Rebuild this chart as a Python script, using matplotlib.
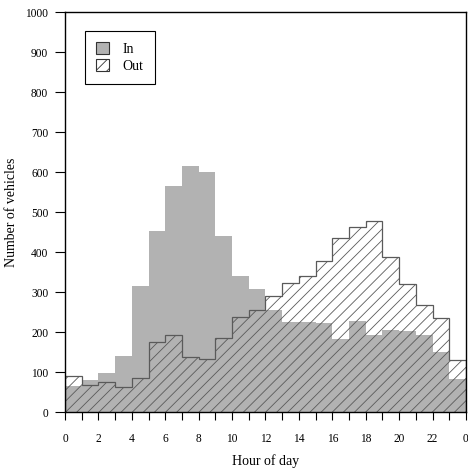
import numpy as np
import matplotlib.pyplot as plt
from matplotlib.patches import Patch

plt.rcParams['font.family'] = ['Liberation Serif', 'DejaVu Serif']
plt.rcParams['hatch.linewidth'] = 0.6

hours = np.arange(24)
edges = np.arange(25)
cars_in = [64, 80, 97, 139, 316, 452, 565, 614, 600, 440, 339, 308,
           254, 224, 224, 223, 182, 228, 192, 206, 203, 193, 149, 82]
cars_out = [89, 68, 75, 62, 84, 174, 192, 137, 132, 185, 237, 256,
            289, 322, 341, 378, 435, 462, 478, 387, 319, 267, 235, 130]
tick_hours = [0, 2, 4, 6, 8, 10, 12, 14, 16, 18, 20, 22, 24]
tick_names = ['0', '2', '4', '6', '8', '10', '12', '14', '16', '18', '20', '22', '0']

gray = '#b2b2b2'
hatch_col = '#5a5a5a'

fig = plt.figure(figsize=(4.68, 4.75), dpi=100)
ax = fig.add_axes([0.1389, 0.1326, 0.8568, 0.8421])

# white base for out, then gray in, then hatch over everything
ax.bar(hours, cars_out, width=1, align='edge', color='white', linewidth=0)
ax.bar(hours, cars_in, width=1, align='edge', color=gray, linewidth=0)
ax.bar(hours, cars_out, width=1, align='edge', facecolor='none',
       edgecolor=hatch_col, hatch='///', linewidth=0)
ax.stairs(cars_out, edges, color=hatch_col, linewidth=0.9)

h_in = Patch(facecolor=gray, edgecolor='#333333', linewidth=0.8)
h_out = Patch(facecolor='white', edgecolor='#333333', hatch='///', linewidth=0.8)
leg = ax.legend([h_in, h_out], ['In', 'Out'], loc='upper left',
                bbox_to_anchor=(0.05, 0.9525), borderaxespad=0,
                fancybox=False, framealpha=1,
                edgecolor='black', fontsize=10, handlelength=0.9,
                handleheight=0.9, handletextpad=1.0, borderpad=0.8,
                labelspacing=0.25)
leg.get_frame().set_linewidth(0.8)

ax.set_xlim(0, 24)
ax.set_ylim(0, 1000)
ax.set_xticks(hours, minor=True)
ax.set_xticks(tick_hours)
ax.set_xticklabels(tick_names)
ax.set_yticks(np.arange(0, 1001, 100))
ax.tick_params(axis='x', which='both', direction='out', length=6, width=0.8, pad=9, labelsize=8.3)
ax.tick_params(axis='y', direction='out', length=7, width=0.8, pad=5, labelsize=8.3)
for s in ax.spines.values():
    s.set_linewidth(1.0)

ax.set_xlabel('Hour of day', fontsize=10, labelpad=7)
ax.set_ylabel('Number of vehicles', fontsize=10, labelpad=5)

fig.savefig('out.png', dpi=100)
